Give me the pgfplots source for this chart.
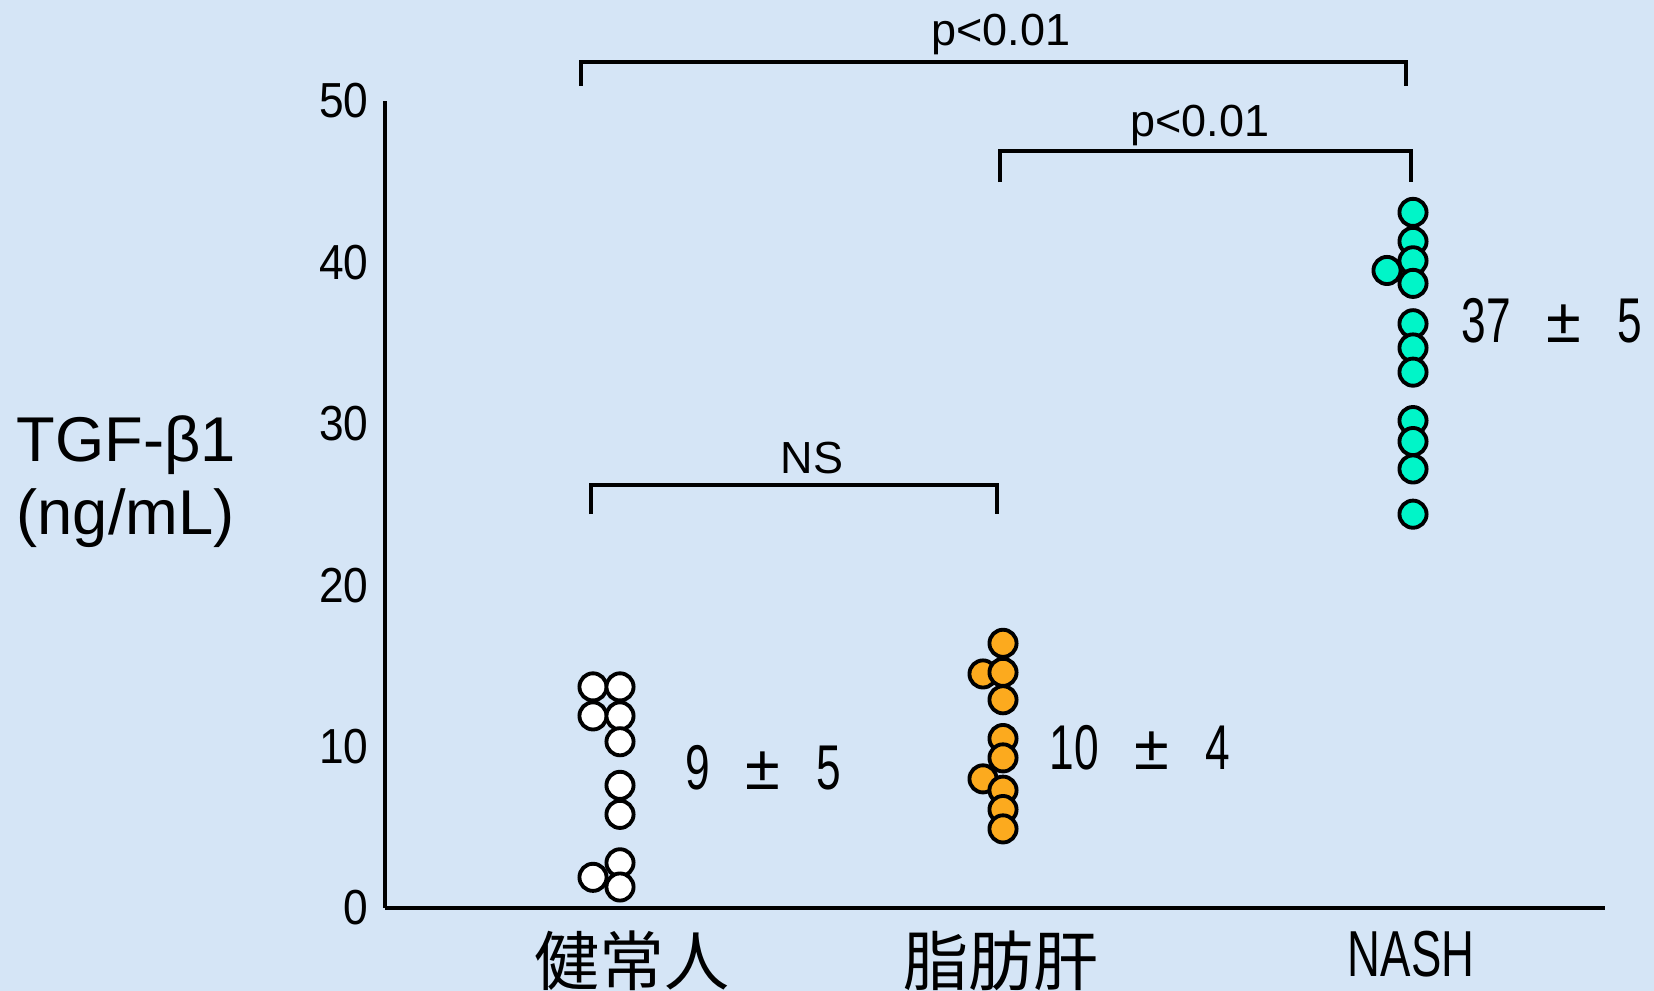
\documentclass[border=0pt]{standalone}
\usepackage{fontspec}
\usepackage{pgfplots}
\pgfplotsset{compat=1.18}
\setmainfont{Liberation Sans}
\newfontfamily\cjk{Noto Sans CJK JP}
\newfontfamily\narrow[FakeStretch=0.70]{Liberation Sans}
\newfontfamily\numnarrow[FakeStretch=0.70]{Liberation Sans}
\newfontfamily\ticknarrow[FakeStretch=0.90]{Liberation Sans}
\definecolor{bgblue}{RGB}{213,229,246}
\definecolor{orng}{RGB}{252,170,30}
\definecolor{aqua}{RGB}{0,245,200}
\newcommand{\pmtext}[2]{{\numnarrow #1}\hspace{3.6mm}±\hspace{3.6mm}{\numnarrow #2}}
\begin{document}
\begin{tikzpicture}
\useasboundingbox (0,0) rectangle (16.54cm,9.91cm);
\fill[bgblue] (0,0) rectangle (16.54cm,9.91cm);
\node[anchor=west, align=left, inner sep=0pt, font=\fontsize{18}{20.8}\selectfont] at (0.16cm,5.09cm) {TGF-β1\\(ng/mL)};
\begin{axis}[
  at={(3.85cm,0.83cm)}, anchor=origin,
  scale only axis, width=12.2cm, height=8.07cm,
  xmin=0, xmax=1220, ymin=0, ymax=50,
  axis x line=bottom, axis y line=left,
  axis line style={-, line width=1pt, black},
  clip=false,
  ytick={0,10,20,30,40,50},
  major tick length=0pt,
  /pgf/number format/assume math mode=true,
  yticklabel style={anchor=east, inner sep=0pt, xshift=-1.6mm, font=\fontsize{14}{14}\ticknarrow},
  xtick={247,616,1026},
  xticklabels={{\cjk 健常人},{\cjk 脂肪肝},{\narrow NASH}},
  xticklabel style={anchor=north, inner sep=0pt, yshift=-2.2mm, font=\fontsize{18.5}{18.5}\selectfont},
]
% 健常人
\addplot[only marks, mark=*, mark size=3.86pt, mark options={fill=white, draw=black, line width=1.1pt}] coordinates {
 (208,13.7) (235,13.7) (208,11.9) (235,11.9) (235,10.3) (235,7.6) (235,5.8) (235,2.8) (208,1.9) (235,1.3)
};
% 脂肪肝
\addplot[only marks, mark=*, mark size=3.86pt, mark options={fill=orng, draw=black, line width=1.1pt}] coordinates {
 (598,14.5) (618,16.4) (618,14.6) (618,12.9) (618,10.5) (618,9.3) (598,8.0) (618,7.3) (618,6.1) (618,4.9)
};
% NASH
\addplot[only marks, mark=*, mark size=3.86pt, mark options={fill=aqua, draw=black, line width=1.1pt}] coordinates {
 (1002,39.5) (1028,43.1) (1028,41.3) (1028,40.1) (1028,38.7) (1028,36.2) (1028,34.7) (1028,33.2) (1028,30.2) (1028,28.9) (1028,27.2) (1028,24.4)
};
% annotations
\node[font=\fontsize{18}{18}\selectfont, inner sep=0pt] at (axis cs:378,8.67) {\pmtext{9}{5}};
\node[font=\fontsize{18}{18}\selectfont, inner sep=0pt] at (axis cs:755,9.9) {\pmtext{10}{4}};
\node[font=\fontsize{18}{18}\selectfont, inner sep=0pt] at (axis cs:1167,36.4) {\pmtext{37}{5}};
% brackets
\draw[line width=0.9pt] (axis cs:196,50.93) -- (axis cs:196,52.42) -- (axis cs:1021,52.42) -- (axis cs:1021,50.93);
\node[anchor=base, inner sep=0pt, font=\fontsize{12.8}{12.8}\selectfont] at (axis cs:616,53.47) {p<0.01};
\draw[line width=0.9pt] (axis cs:615,44.98) -- (axis cs:615,46.90) -- (axis cs:1026,46.90) -- (axis cs:1026,44.98);
\node[anchor=base, inner sep=0pt, font=\fontsize{12.8}{12.8}\selectfont] at (axis cs:815,47.77) {p<0.01};
\draw[line width=0.9pt] (axis cs:206,24.41) -- (axis cs:206,26.21) -- (axis cs:612,26.21) -- (axis cs:612,24.41);
\node[anchor=base, inner sep=0pt, font=\fontsize{12.8}{12.8}\selectfont] at (axis cs:427,26.92) {NS};
\end{axis}
\end{tikzpicture}
\end{document}
